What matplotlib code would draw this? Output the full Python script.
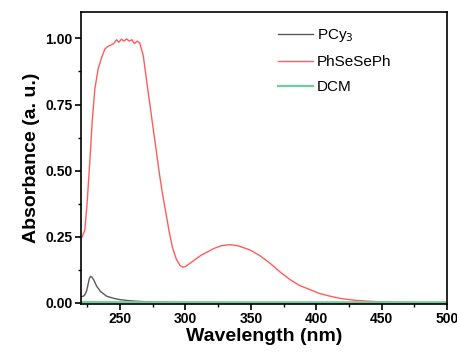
import matplotlib
matplotlib.use("Agg")
import matplotlib.pyplot as plt
from matplotlib.ticker import MultipleLocator

plt.rcParams['font.family'] = ['Liberation Sans', 'DejaVu Sans']

# PCy3 (gray)
wl_pcy3 = [220, 221.8, 223, 224.3, 225.5, 226.5, 227.4, 228.5, 230, 232, 235, 239.7,
           245, 249.8, 255, 262, 270.2, 280, 290, 300, 320, 350, 400, 450, 500]
abs_pcy3 = [0.022, 0.025, 0.03, 0.044, 0.07, 0.092, 0.10, 0.097, 0.085, 0.063, 0.043, 0.025,
            0.017, 0.012, 0.009, 0.006, 0.004, 0.003, 0.002, 0.001, 0.001, 0.0, 0.0, 0.0, 0.0]

# PhSeSePh (red)
wl_ph = [220, 221, 223, 224.8, 226.9, 228.7, 230.7, 233.2, 236, 238.4, 240.7, 243, 245,
         247.3, 249, 251, 253, 255, 257, 259, 261, 263, 265, 267.7, 270, 272.5, 275,
         277.5, 280, 282.5, 285, 287.5, 290, 293, 296, 298, 300, 303, 307.2, 312, 317.4,
         322, 327.6, 334, 340, 349.3, 357, 364.6, 372, 379.9, 387, 395.2, 402, 410.5,
         420, 431, 440, 448.7, 460, 472, 485]
abs_ph = [0.243, 0.25, 0.275, 0.38, 0.54, 0.69, 0.81, 0.885, 0.93, 0.96, 0.97, 0.975, 0.98,
          0.995, 0.985, 0.997, 0.99, 0.998, 0.99, 0.995, 0.98, 0.99, 0.983, 0.935, 0.85,
          0.76, 0.67, 0.58, 0.49, 0.41, 0.34, 0.27, 0.21, 0.165, 0.14, 0.135, 0.137, 0.148,
          0.163, 0.18, 0.194, 0.206, 0.216, 0.22, 0.216, 0.2, 0.178, 0.15, 0.118, 0.088,
          0.066, 0.05, 0.036, 0.025, 0.015, 0.009, 0.006, 0.004, 0.002, 0.001, 0.0]

# DCM (green)
wl_dcm = [220, 260, 300, 350, 400, 450, 500]
abs_dcm = [0.003, 0.002, 0.002, 0.002, 0.002, 0.002, 0.002]

fig = plt.figure(figsize=(4.57, 3.52), dpi=100)
ax = fig.add_axes([0.177, 0.136, 0.801, 0.83])

ax.plot(wl_pcy3, abs_pcy3, color='#5a5a5a', lw=1.0, label='PCy$_3$')
ax.plot(wl_ph, abs_ph, color='#ff5c5c', lw=1.0, label='PhSeSePh')
ax.plot(wl_dcm, abs_dcm, color='#6fcf9a', lw=1.6, label='DCM')

ax.set_xlim(220, 500)
ax.set_ylim(-0.005, 1.1)
ax.xaxis.set_major_locator(MultipleLocator(50))
ax.xaxis.set_minor_locator(MultipleLocator(25))
ax.yaxis.set_major_locator(MultipleLocator(0.25))
ax.yaxis.set_minor_locator(MultipleLocator(0.125))
ax.yaxis.set_major_formatter(plt.FormatStrFormatter('%.2f'))

ax.tick_params(which='major', direction='out', length=4, width=1.2, pad=2,
               labelsize=10, top=False, right=False)
ax.tick_params(which='minor', direction='out', length=2.5, width=1.0,
               top=False, right=False)
for lab in ax.get_xticklabels() + ax.get_yticklabels():
    lab.set_fontweight('bold')
for sp in ax.spines.values():
    sp.set_linewidth(1.2)

ax.set_xlabel('Wavelength (nm)', fontsize=14, fontweight='bold', labelpad=1)
ax.set_ylabel('Absorbance (a. u.)', fontsize=14, fontweight='bold', labelpad=4)

ax.legend(loc='upper left', bbox_to_anchor=(0.5, 0.995), frameon=False, fontsize=11,
          handlelength=2.3, handletextpad=0.25, labelspacing=0.72)

fig.savefig('out.png', dpi=100)
